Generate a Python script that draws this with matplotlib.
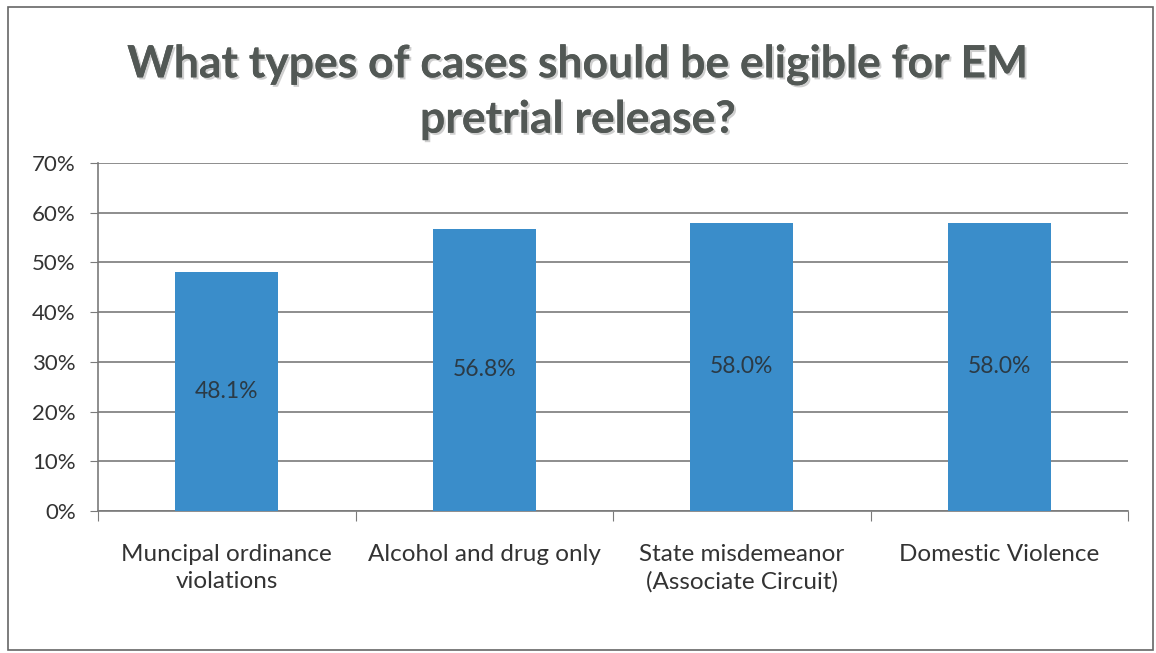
import matplotlib.pyplot as plt
import matplotlib.patheffects as pe
from matplotlib.patches import Rectangle

plt.rcParams['font.family'] = ['Lato', 'DejaVu Sans']

categories = ["Muncipal ordinance\nviolations", "Alcohol and drug only",
              "State misdemeanor\n(Associate Circuit)", "Domestic Violence"]
values = [48.1, 56.8, 58.0, 58.0]  # percent
yticks = [0, 10, 20, 30, 40, 50, 60, 70]

fig = plt.figure(figsize=(11.56, 6.53), dpi=100)
ax = fig.add_axes([98/1156, 1 - 511/653, 1030/1156, 348/653])

x = range(len(values))
bars = ax.bar(x, values, width=0.4, color='#3A8DCA', zorder=3)
for b, v in zip(bars, values):
    ax.text(b.get_x() + b.get_width()/2, v/2, "%.1f%%" % v, ha='center', va='center',
            fontsize=16.5, color='#2b3a45', zorder=4)

ax.set_xlim(-0.5, len(values) - 0.5)
ax.set_ylim(0, 70)
ax.set_yticks(yticks)
ax.set_yticklabels(["%d%%" % t for t in yticks], fontsize=16, color='#333333')
ax.yaxis.grid(True, color='#7a7a7a', linewidth=1.2, zorder=0)
ax.tick_params(axis='y', length=6, color='#7a7a7a', pad=10)

# category boundary ticks on x axis, labels in between
ax.set_xticks([i - 0.5 for i in range(len(values) + 1)])
ax.set_xticklabels([])
ax.set_xticks(list(x), minor=True)
ax.set_xticklabels(categories, minor=True, fontsize=17.5, color='#333333', linespacing=1.35)
ax.tick_params(axis='x', which='major', length=7, color='#7a7a7a', direction='out')
ax.tick_params(axis='x', which='minor', length=0, pad=24)

for s in ['top', 'right']:
    ax.spines[s].set_visible(False)
for s in ['left', 'bottom']:
    ax.spines[s].set_color('#7a7a7a')
    ax.spines[s].set_linewidth(1.2)

fig.text(0.5, 1 - 92/653, "What types of cases should be eligible for EM\npretrial release?",
         ha='center', va='center', fontsize=32, fontweight='bold', color='#525855',
         linespacing=1.45,
         path_effects=[pe.withSimplePatchShadow(offset=(1.5, -1.5), shadow_rgbFace='#c4c4c4', alpha=0.8),
                       pe.Normal()])

fig.patches.append(Rectangle((8/1156, 1 - 650/653), 1145/1156, 643/653, transform=fig.transFigure,
                             fill=False, edgecolor='#666666', linewidth=1.2))

fig.savefig("out.png", dpi=100)
